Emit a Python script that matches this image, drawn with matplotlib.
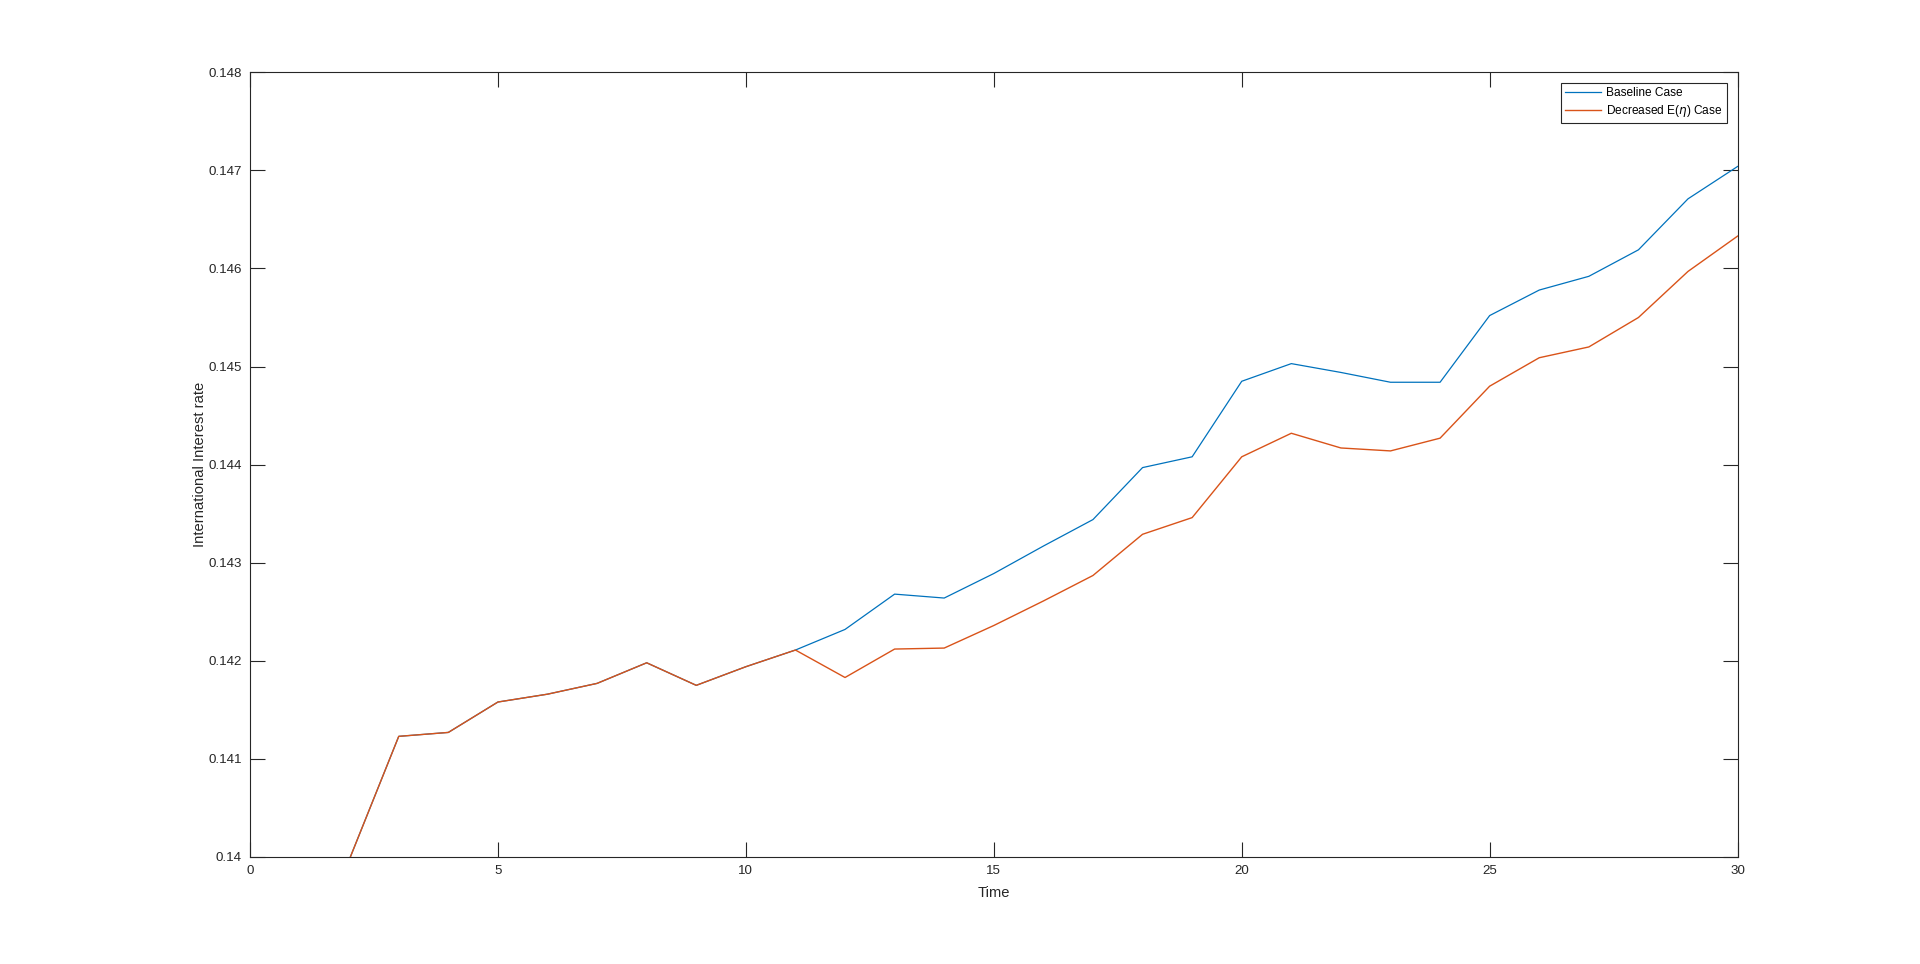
import numpy as np
import matplotlib
matplotlib.use('Agg')
import matplotlib.pyplot as plt
from matplotlib.ticker import FuncFormatter

plt.rcParams['font.family'] = ['Liberation Sans', 'DejaVu Sans']

# Time steps and interest rate paths
time = list(range(0, 31))
baseline = [0.1385, 0.1392, 0.13997, 0.14123, 0.14127, 0.14158, 0.14166, 0.14177,
            0.14198, 0.14175, 0.14194, 0.14211, 0.14232, 0.14268, 0.14264, 0.14289,
            0.14317, 0.14344, 0.14397, 0.14408, 0.14485, 0.14503, 0.14494, 0.14484,
            0.14484, 0.14552, 0.14578, 0.14592, 0.14619, 0.14671, 0.14704]
decreased = [0.1385, 0.1392, 0.13997, 0.14123, 0.14127, 0.14158, 0.14166, 0.14177,
             0.14198, 0.14175, 0.14194, 0.14211, 0.14183, 0.14212, 0.14213, 0.14236,
             0.14261, 0.14287, 0.14329, 0.14346, 0.14408, 0.14432, 0.14417, 0.14414,
             0.14427, 0.14480, 0.14509, 0.14520, 0.14550, 0.14597, 0.14633]

axis_col = '#262626'

fig = plt.figure(figsize=(19.2, 9.64), dpi=100)
ax = fig.add_axes([0.1302, 0.111, 0.7748, 0.814])

ax.plot(time, baseline, color='#0072BD', linewidth=0.9, label='Baseline Case')
ax.plot(time, decreased, color='#D95319', linewidth=1.0, label=r'Decreased E($\eta$) Case')

ax.set_xlim(0, 30)
ax.set_ylim(0.140, 0.148)
ax.set_xticks(np.arange(0, 31, 5))
ax.set_yticks(np.arange(0.140, 0.1481, 0.001))
ax.yaxis.set_major_formatter(FuncFormatter(lambda v, p: '%g' % round(v, 4)))

ax.tick_params(direction='in', length=11, width=0.8, top=True, right=True,
               labelsize=9.6, colors=axis_col, pad=6)
for s in ax.spines.values():
    s.set_color(axis_col)
    s.set_linewidth(0.8)

ax.set_xlabel('Time', fontsize=10.6, color=axis_col, labelpad=6)
ax.set_ylabel('International Interest rate', fontsize=10.6, color=axis_col, labelpad=1)

leg = ax.legend(loc='upper right', fontsize=8.6, fancybox=False, framealpha=1,
                edgecolor=axis_col, borderaxespad=0.9, handlelength=3.0,
                borderpad=0.35, labelspacing=0.3, handletextpad=0.4)
leg.get_frame().set_linewidth(0.8)

fig.savefig('out.png', dpi=100)
